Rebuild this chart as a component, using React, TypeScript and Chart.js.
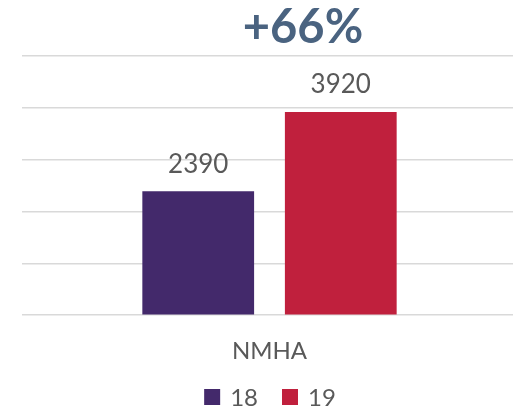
import React, { useEffect, useRef } from "react";
import { Chart, registerables } from "chart.js";

Chart.register(...registerables);

const categories = ["NMHA"];
const seriesNames = ["18", "19"];
const seriesColors = ["#43296B", "#C0203D"];
const values18 = [2390];
const values19 = [3920];
const titleText = "+66%";

const FONT = "'Century Gothic', Lato, 'Open Sans', sans-serif";
const TEXT = "#595959";

const valueLabels = {
  id: "valueLabels",
  afterDatasetsDraw(chart: any) {
    const ctx = chart.ctx;
    ctx.save();
    ctx.font = `26px ${FONT}`;
    ctx.fillStyle = TEXT;
    ctx.textAlign = "center";
    ctx.textBaseline = "middle";
    chart.data.datasets.forEach((ds: any, i: number) => {
      const meta = chart.getDatasetMeta(i);
      meta.data.forEach((bar: any, j: number) => {
        ctx.fillText(String(ds.data[j]), bar.x, bar.y - 27);
      });
    });
    ctx.restore();
  },
};

const titlePlugin = {
  id: "customTitle",
  afterDraw(chart: any) {
    const ctx = chart.ctx;
    ctx.save();
    ctx.font = `bold 47px ${FONT}`;
    ctx.fillStyle = "#4A6380";
    ctx.textAlign = "center";
    ctx.textBaseline = "middle";
    ctx.fillText(titleText, 303, 28);
    ctx.restore();
  },
};

const legendPlugin = {
  id: "customLegend",
  afterDraw(chart: any) {
    const ctx = chart.ctx;
    ctx.save();
    ctx.font = `24px ${FONT}`;
    ctx.textBaseline = "middle";
    ctx.textAlign = "left";
    const cy = 397;
    const box = 16;
    const gapBoxText = 10;
    const gapItems = 24;
    const widths = chart.data.datasets.map(
      (ds: any) => box + gapBoxText + ctx.measureText(ds.label).width
    );
    const total = widths.reduce((a: number, b: number) => a + b, 0) + gapItems * (widths.length - 1);
    let x = 270 - total / 2;
    chart.data.datasets.forEach((ds: any, i: number) => {
      ctx.fillStyle = ds.backgroundColor;
      ctx.fillRect(x, cy - box / 2, box, box);
      ctx.fillStyle = TEXT;
      ctx.fillText(ds.label, x + box + gapBoxText, cy + 1);
      x += widths[i] + gapItems;
    });
    ctx.restore();
  },
};

export default function App() {
  const ref = useRef<HTMLCanvasElement>(null);
  useEffect(() => {
    if (!ref.current) return;
    const chart = new Chart(ref.current, {
      type: "bar",
      data: {
        labels: categories,
        datasets: [
          { label: seriesNames[0], data: values18, backgroundColor: seriesColors[0] },
          { label: seriesNames[1], data: values19, backgroundColor: seriesColors[1] },
        ],
      },
      options: {
        animation: false,
        responsive: false,
        layout: { padding: { left: 22, right: 0, top: 56, bottom: 23 } },
        datasets: { bar: { categoryPercentage: 0.576, barPercentage: 0.784 } } as any,
        scales: {
          x: {
            grid: { display: false, drawTicks: false },
            border: { display: false },
            ticks: { color: TEXT, font: { family: FONT, size: 24 }, padding: 22 },
          },
          y: {
            min: 0,
            max: 5000,
            ticks: { display: false, stepSize: 1000 },
            grid: { color: "#d9d9d9", lineWidth: 1.5, drawTicks: false, tickLength: 0 },
            border: { display: false },
          },
        },
        plugins: {
          title: { display: false },
          tooltip: { enabled: false },
          legend: { display: false },
        },
      },
      plugins: [valueLabels, titlePlugin, legendPlugin],
    });
    return () => chart.destroy();
  }, []);
  return (
    <div style={{ position: "fixed", left: 0, top: 0, width: 513, height: 411, background: "#fff", overflow: "hidden" }}>
      <canvas ref={ref} width={517} height={411} />
    </div>
  );
}
